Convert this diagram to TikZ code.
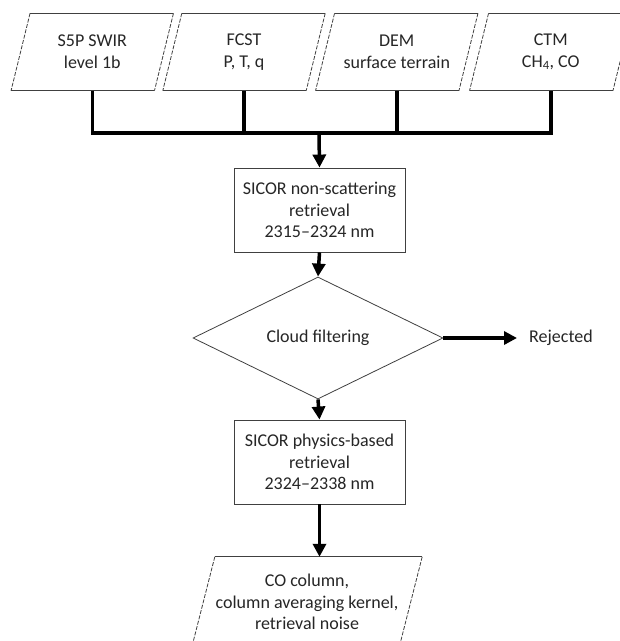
\documentclass[tikz,border=0pt]{standalone}
\usepackage{fontspec}
\setmainfont{Carlito}
\usetikzlibrary{arrows.meta,calc,shapes.geometric}
\newcommand\paraframe[2]{%
  \draw[iobord] ($(#1.north west)+(#2,0)$) -- ($(#1.north east)+(#2,0)$);
  \draw[iobord] ($(#1.south east)+(-#2,0)$) -- ($(#1.south west)+(-#2,0)$);
  \draw[iobord, dash pattern=on 4pt off 1.5pt] ($(#1.north east)+(#2,0)$) -- ($(#1.south east)+(-#2,0)$);
  \draw[iobord, dash pattern=on 4pt off 1.5pt] ($(#1.north west)+(#2,0)$) -- ($(#1.south west)+(-#2,0)$);}
\begin{document}
\begin{tikzpicture}[x=1pt,y=-1pt,
  every node/.style={font=\fontsize{18}{21.6}\selectfont, text=black!85, align=center},
  procbox/.style={draw=black!75, line width=0.9pt, minimum width=171, minimum height=84, inner sep=0},
  iobox/.style={minimum width=143, minimum height=77, inner sep=0},
  outbox/.style={minimum width=207, minimum height=90, inner sep=0},
  iobord/.style={draw=black!75, line width=0.8pt},
  decision/.style={diamond, draw=black!75, line width=0.8pt, aspect=2, minimum width=250, minimum height=122, inner sep=0},
  flow/.style={line width=3.5pt, -{Triangle[length=13pt,width=13pt]}},
  link/.style={line width=3.5pt, line join=miter},
]
\useasboundingbox (0,0) rectangle (620,641);
\begin{scope}
\clip (0,0) rectangle (620,641);
\fill[white] (0,0) rectangle (620,641);

\node[iobox] (s5p) at (92.25,52) {S5P SWIR\\level 1b};
\node[iobox] (fcst) at (244,52) {FCST\\P, T, q};
\node[iobox] (dem) at (396.75,52) {DEM\\surface terrain};
\node[iobox] (ctm) at (550.75,52) {CTM\\CH\textsubscript{4}, CO};
\paraframe{s5p}{9.5}
\paraframe{fcst}{9.5}
\paraframe{dem}{9.5}
\paraframe{ctm}{9.5}

\node[procbox] (ns) at (319.5,210) {SICOR non-scattering\\retrieval\\2315--2324 nm};
\node[decision] (cf) at (318,338) {Cloud filtering};
\node[anchor=west, inner xsep=12pt] (rej) at (517,338) {Rejected};
\node[procbox] (pb) at (319.5,462) {SICOR physics-based\\retrieval\\2324--2338 nm};
\node[outbox] (out) at (307,602) {CO column,\\column averaging kernel,\\retrieval noise};
\paraframe{out}{11.5}

\coordinate (j) at (319,133);
\draw[link] (s5p.south) -- (s5p.south |- j) -- (ctm.south |- j) -- (ctm.south);
\draw[link] (fcst.south) -- (fcst.south |- j);
\draw[link] (dem.south) -- (dem.south |- j);
\draw[flow] (j) -- (ns.north);
\draw[flow] (ns.south) -- (cf.north);
\draw[flow] (cf.east) -- (rej.west);
\draw[flow] (cf.south) -- (pb.north);
\draw[flow] (pb.south) -- (pb.south |- out.north);
\end{scope}
\end{tikzpicture}
\end{document}
